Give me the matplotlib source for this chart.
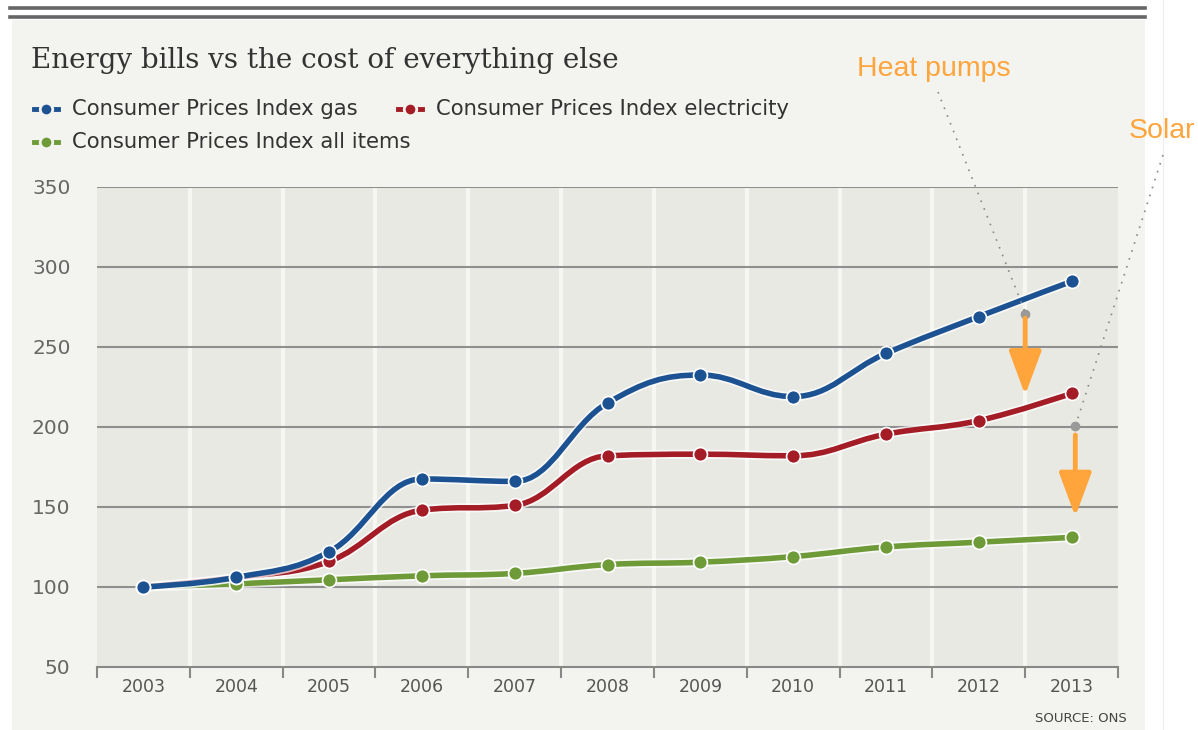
import numpy as np
import matplotlib
matplotlib.use("Agg")
import matplotlib.pyplot as plt
from matplotlib.path import Path
from matplotlib.patches import PathPatch, Rectangle
import matplotlib.patheffects as pe
from matplotlib.lines import Line2D

# ==========================
# Data
# ==========================
years = ["2003", "2004", "2005", "2006", "2007", "2008", "2009", "2010", "2011", "2012", "2013"]
cpi_gas = [100, 106, 122, 167.5, 166, 215, 232.5, 219, 246, 269, 291]
cpi_elec = [100, 106, 116, 148, 151, 182, 183, 182, 195.5, 204, 221]
cpi_all = [100, 102, 104.5, 107, 108.5, 114, 115.5, 119, 125, 128, 131]
yticks = [50, 100, 150, 200, 250, 300, 350]

series_names = ["Consumer Prices Index gas", "Consumer Prices Index electricity",
                "Consumer Prices Index all items"]
series_colors = ["#1d5292", "#a31c26", "#6e9a38"]

ORANGE = "#ffa53c"
BG_OUT = "#f3f3ef"
BG_PLOT = "#e9e9e4"


def spline_path(xs, ys, smoothing=1.5):
    # highcharts-style spline, cubic bezier through every point
    n = len(xs)
    left = [(xs[i], ys[i]) for i in range(n)]
    right = [(xs[i], ys[i]) for i in range(n)]
    d = smoothing + 1
    for i in range(1, n - 1):
        lx, ly = xs[i - 1], ys[i - 1]
        px, py = xs[i], ys[i]
        nx, ny = xs[i + 1], ys[i + 1]
        lcx = (smoothing * px + lx) / d
        lcy = (smoothing * py + ly) / d
        rcx = (smoothing * px + nx) / d
        rcy = (smoothing * py + ny) / d
        corr = (rcy - lcy) * (rcx - px) / (rcx - lcx) + py - rcy
        lcy += corr
        rcy += corr
        if lcy > ly and lcy > py:
            lcy = max(ly, py); rcy = 2 * py - lcy
        elif lcy < ly and lcy < py:
            lcy = min(ly, py); rcy = 2 * py - lcy
        if rcy > ny and rcy > py:
            rcy = max(ny, py); lcy = 2 * py - rcy
        elif rcy < ny and rcy < py:
            rcy = min(ny, py); lcy = 2 * py - rcy
        left[i] = (lcx, lcy)
        right[i] = (rcx, rcy)
    verts = [(xs[0], ys[0])]
    codes = [Path.MOVETO]
    for i in range(1, n):
        verts += [right[i - 1], left[i], (xs[i], ys[i])]
        codes += [Path.CURVE4] * 3
    return Path(verts, codes)


# ==========================
# Figure
# ==========================
fig = plt.figure(figsize=(11.98, 7.30), dpi=100)
fig.patch.set_facecolor("white")
W, H = 1198, 730


def fx(px):
    return px / W


def fy(py):
    return 1 - py / H


# chart panel background and double rule on top
panel = Rectangle((fx(12), 0), fx(1145) - fx(12), fy(20), transform=fig.transFigure,
                  facecolor=BG_OUT, edgecolor="none", zorder=-10)
fig.add_artist(panel)
for yy in (8, 17):
    fig.add_artist(Line2D([fx(10), fx(1145)], [fy(yy), fy(yy)], color="#666666", lw=2.6))
fig.add_artist(Line2D([fx(1163), fx(1163)], [0, 1], color="#f0f0f0", lw=1, zorder=-10))

ax = fig.add_axes([fx(97), fy(667), fx(1118) - fx(97), fy(187) - fy(667)])
ax.set_zorder(1)
ax.set_facecolor(BG_PLOT)
x = np.arange(len(years))
ax.set_xlim(-0.5, len(years) - 0.5)
ax.set_ylim(50, 350)

for s in ["top", "right", "left"]:
    ax.spines[s].set_visible(False)
ax.spines["bottom"].set_color("#888888")
ax.spines["bottom"].set_linewidth(1.5)

# vertical light bands between categories
for b in np.arange(0.5, len(years) - 0.5, 1):
    ax.axvline(b, color="#f6f6f3", lw=3, zorder=1)
for t in yticks[1:]:
    ax.axhline(t, color="#8f8f8f", lw=1.5, zorder=2)

ax.set_yticks(yticks)
ax.set_yticklabels([str(t) for t in yticks])
ax.tick_params(axis="y", length=0, pad=19, labelsize=14.5, labelcolor="#666666")
ax.set_xticks(x)
ax.set_xticklabels(years)
ax.tick_params(axis="x", length=0, pad=8, labelsize=12.5, labelcolor="#555555")
ax.set_xticks(np.arange(-0.5, len(years), 1), minor=True)
ax.tick_params(axis="x", which="minor", length=8, width=1.5, color="#888888", direction="out")
for lab in ax.get_yticklabels() + ax.get_xticklabels():
    lab.set_fontfamily("DejaVu Sans")

halo = [pe.Stroke(linewidth=6.5, foreground="white", alpha=0.7), pe.Normal()]
for vals, col in zip([cpi_all, cpi_elec, cpi_gas], series_colors[::-1]):
    path = spline_path(list(x.astype(float)), vals)
    patch = PathPatch(path, facecolor="none", edgecolor=col, lw=4, zorder=4,
                      path_effects=halo, capstyle="round", joinstyle="round")
    ax.add_patch(patch)
    ax.plot(x, vals, "o", ms=10, color=col, mec="white", mew=1.2, zorder=5)

# ==========================
# Annotations
# ==========================
hp_x, hp_y, hp_end = 9.5, 270.5, 220
so_x, so_y, so_end = 10.04, 200.5, 144
ax.plot([hp_x, so_x], [hp_y, so_y], "o", ms=6, color="#999999", zorder=6, clip_on=False)
for (sx, sy, ey) in [(hp_x, hp_y - 2.5, hp_end), (so_x, so_y - 5.5, so_end)]:
    ax.annotate("", xy=(sx, ey), xytext=(sx, sy),
                arrowprops=dict(arrowstyle="-|>,head_length=2.7,head_width=1.0",
                                color=ORANGE, lw=3.5, shrinkA=0, shrinkB=0), zorder=7)

# dotted leader lines from labels (figure coords)
leader = dict(color="#888888", lw=1.2, linestyle=(0, (1, 4)), zorder=6)
fig.add_artist(Line2D([fx(938), fx(1025)], [fy(92), fy(312)], **leader))
fig.add_artist(Line2D([fx(1163), fx(1076)], [fy(155), fy(424)], **leader))
fig.text(fx(934), fy(69), "Heat pumps", color=ORANGE, fontsize=20.5, family="Liberation Sans",
         ha="center", va="center")
fig.text(fx(1162), fy(131), "Solar", color=ORANGE, fontsize=20.5, family="Liberation Sans",
         ha="center", va="center")

# ==========================
# Title, legend, source
# ==========================
fig.text(fx(31), fy(61), "Energy bills vs the cost of everything else", fontsize=20,
         family="DejaVu Serif", color="#333333", va="center")

legend_pos = [(46, 109), (410, 109), (46, 142)]
for (lx, ly), name, col in zip(legend_pos, series_names, series_colors):
    fig.add_artist(Line2D([fx(lx - 12), fx(lx + 12)], [fy(ly), fy(ly)], color=col, lw=3.5))
    fig.add_artist(Line2D([fx(lx)], [fy(ly)], marker="o", ms=9, color=col, mec=BG_OUT, mew=2))
    fig.text(fx(lx + 26), fy(ly), name, fontsize=15.2, family="DejaVu Sans", color="#333333",
             va="center")

fig.text(fx(1127), fy(718), "SOURCE: ONS", fontsize=9.5, family="DejaVu Sans", color="#444444",
         ha="right", va="center")

fig.savefig("out.png", dpi=100, facecolor=fig.get_facecolor())
